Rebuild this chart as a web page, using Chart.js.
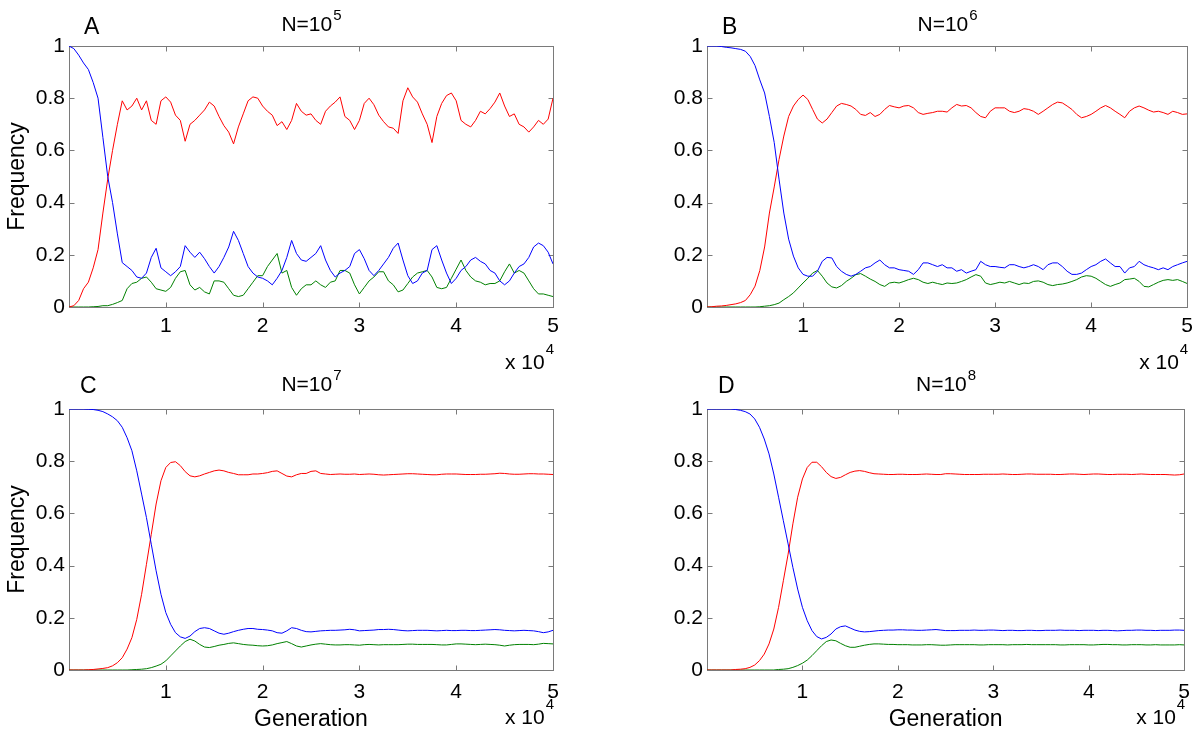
<!DOCTYPE html>
<html>
<head>
<meta charset="utf-8">
<script src="https://cdn.jsdelivr.net/npm/chart.js@4.4.0/dist/chart.umd.min.js"></script>
<style>
  body { margin: 0; background: #fff; width: 1200px; height: 736px; position: relative; overflow: hidden; }
  canvas { position: absolute; }
</style>
</head>
<body>
<canvas id="panelA" width="600" height="380" style="left:0;top:0"></canvas>
<canvas id="panelB" width="600" height="380" style="left:600px;top:0"></canvas>
<canvas id="panelC" width="600" height="368" style="left:0;top:368px"></canvas>
<canvas id="panelD" width="600" height="368" style="left:600px;top:368px"></canvas>
<script>
// generation sampled every 500
const generation = [0,500,1000,1500,2000,2500,3000,3500,4000,4500,5000,5500,6000,6500,7000,7500,8000,8500,9000,9500,
  10000,10500,11000,11500,12000,12500,13000,13500,14000,14500,15000,15500,16000,16500,17000,17500,18000,18500,19000,19500,
  20000,20500,21000,21500,22000,22500,23000,23500,24000,24500,25000,25500,26000,26500,27000,27500,28000,28500,29000,29500,
  30000,30500,31000,31500,32000,32500,33000,33500,34000,34500,35000,35500,36000,36500,37000,37500,38000,38500,39000,39500,
  40000,40500,41000,41500,42000,42500,43000,43500,44000,44500,45000,45500,46000,46500,47000,47500,48000,48500,49000,49500,50000];

const xTickLabels = ['', '1', '2', '3', '4', '5'];
const yTickLabels = ['0', '0.2', '0.4', '0.6', '0.8', '1'];

// N = 10^5
const aBlue = [1.0,0.99,0.965,0.935,0.91,0.86,0.80,0.65,0.50,0.40,
  0.28,0.17,0.155,0.14,0.115,0.11,0.13,0.19,0.225,0.15,
  0.135,0.12,0.135,0.155,0.235,0.21,0.19,0.21,0.185,0.155,
  0.13,0.155,0.19,0.23,0.29,0.255,0.205,0.155,0.13,0.115,
  0.11,0.10,0.085,0.11,0.14,0.19,0.255,0.205,0.18,0.175,
  0.19,0.205,0.235,0.18,0.14,0.115,0.13,0.14,0.155,0.205,
  0.22,0.185,0.14,0.12,0.14,0.165,0.19,0.225,0.245,0.18,
  0.12,0.09,0.10,0.13,0.14,0.22,0.235,0.18,0.13,0.09,
  0.11,0.14,0.155,0.18,0.19,0.175,0.165,0.14,0.13,0.10,
  0.085,0.10,0.13,0.155,0.165,0.19,0.23,0.245,0.235,0.21,0.165];
const aRed = [0,0.005,0.025,0.07,0.095,0.15,0.22,0.36,0.49,0.60,
  0.70,0.79,0.755,0.77,0.80,0.755,0.79,0.715,0.70,0.79,
  0.805,0.785,0.735,0.715,0.635,0.70,0.715,0.735,0.755,0.785,
  0.77,0.73,0.695,0.67,0.625,0.69,0.74,0.79,0.805,0.80,
  0.77,0.75,0.735,0.695,0.71,0.68,0.715,0.78,0.75,0.735,
  0.74,0.715,0.70,0.75,0.77,0.785,0.805,0.73,0.715,0.68,
  0.715,0.78,0.80,0.775,0.735,0.71,0.69,0.685,0.665,0.79,
  0.84,0.805,0.785,0.74,0.70,0.63,0.73,0.78,0.81,0.82,
  0.79,0.715,0.70,0.69,0.715,0.75,0.74,0.76,0.785,0.82,
  0.77,0.73,0.74,0.70,0.69,0.67,0.69,0.715,0.70,0.72,0.80];
const aGreen = [0,0,0,0,0,0.001,0.002,0.005,0.005,0.01,
  0.017,0.025,0.07,0.09,0.095,0.11,0.115,0.095,0.07,0.065,
  0.06,0.075,0.11,0.135,0.14,0.085,0.065,0.075,0.058,0.05,
  0.10,0.10,0.095,0.07,0.045,0.04,0.045,0.07,0.095,0.12,
  0.12,0.155,0.18,0.205,0.13,0.14,0.075,0.045,0.07,0.085,
  0.085,0.10,0.085,0.075,0.095,0.10,0.14,0.14,0.13,0.085,
  0.05,0.075,0.10,0.115,0.135,0.135,0.10,0.085,0.058,0.065,
  0.09,0.115,0.13,0.135,0.14,0.115,0.075,0.07,0.075,0.11,
  0.145,0.18,0.14,0.115,0.10,0.095,0.085,0.09,0.09,0.10,
  0.135,0.165,0.13,0.14,0.13,0.10,0.07,0.05,0.05,0.045,0.04];

// N = 10^6
const bBlue = [1.0,1.0,1.0,0.998,0.995,0.993,0.99,0.987,0.98,0.96,
  0.925,0.87,0.82,0.73,0.63,0.49,0.36,0.26,0.195,0.15,
  0.125,0.118,0.118,0.137,0.175,0.19,0.188,0.155,0.137,0.125,
  0.118,0.125,0.137,0.15,0.155,0.169,0.18,0.162,0.15,0.15,
  0.143,0.14,0.137,0.125,0.143,0.169,0.169,0.162,0.155,0.162,
  0.15,0.15,0.137,0.143,0.13,0.137,0.143,0.175,0.162,0.155,
  0.155,0.152,0.15,0.162,0.162,0.155,0.15,0.155,0.162,0.155,
  0.143,0.162,0.169,0.169,0.155,0.137,0.125,0.125,0.13,0.143,
  0.155,0.162,0.175,0.184,0.169,0.155,0.155,0.13,0.15,0.155,
  0.175,0.162,0.155,0.15,0.143,0.15,0.143,0.155,0.162,0.169,0.175];
const bRed = [0,0.001,0.003,0.004,0.006,0.009,0.012,0.017,0.025,0.047,
  0.08,0.14,0.23,0.36,0.46,0.565,0.655,0.73,0.77,0.795,
  0.812,0.795,0.757,0.72,0.705,0.72,0.745,0.77,0.78,0.776,
  0.77,0.757,0.738,0.734,0.745,0.73,0.738,0.757,0.772,0.767,
  0.763,0.77,0.772,0.763,0.745,0.738,0.742,0.745,0.75,0.75,
  0.747,0.763,0.776,0.77,0.772,0.763,0.745,0.73,0.725,0.75,
  0.763,0.763,0.763,0.75,0.745,0.75,0.76,0.757,0.75,0.738,
  0.75,0.763,0.776,0.785,0.782,0.77,0.757,0.738,0.725,0.73,
  0.738,0.75,0.763,0.772,0.763,0.75,0.738,0.725,0.75,0.763,
  0.77,0.763,0.754,0.747,0.75,0.745,0.738,0.75,0.745,0.738,0.74];
const bGreen = [0,0,0,0,0,0,0,0,0,0,
  0,0.001,0.003,0.005,0.009,0.015,0.028,0.04,0.054,0.073,
  0.092,0.11,0.13,0.14,0.118,0.092,0.077,0.073,0.082,0.098,
  0.11,0.124,0.128,0.118,0.107,0.098,0.086,0.079,0.092,0.095,
  0.092,0.098,0.105,0.11,0.105,0.095,0.09,0.095,0.09,0.086,
  0.092,0.09,0.092,0.098,0.105,0.115,0.124,0.118,0.092,0.086,
  0.09,0.095,0.092,0.098,0.092,0.086,0.092,0.09,0.098,0.10,
  0.095,0.086,0.082,0.086,0.088,0.092,0.098,0.105,0.115,0.12,
  0.118,0.11,0.098,0.086,0.079,0.086,0.092,0.105,0.107,0.11,
  0.098,0.079,0.077,0.086,0.095,0.102,0.105,0.102,0.105,0.098,0.09];

// N = 10^7
const cBlue = [1,1,1,1,0.999,0.998,0.995,0.99,0.981,0.97,
  0.955,0.93,0.89,0.84,0.763,0.674,0.584,0.482,0.38,0.29,
  0.22,0.175,0.143,0.127,0.121,0.13,0.147,0.159,0.162,0.159,
  0.15,0.141,0.137,0.141,0.147,0.152,0.156,0.159,0.159,0.156,
  0.155,0.153,0.15,0.143,0.141,0.15,0.162,0.159,0.152,0.147,
  0.146,0.148,0.15,0.151,0.152,0.152,0.153,0.154,0.156,0.154,
  0.15,0.151,0.152,0.153,0.155,0.155,0.156,0.155,0.153,0.151,
  0.15,0.151,0.152,0.152,0.152,0.151,0.15,0.151,0.152,0.151,
  0.151,0.152,0.152,0.151,0.151,0.152,0.153,0.154,0.155,0.154,
  0.152,0.151,0.15,0.151,0.152,0.151,0.15,0.147,0.143,0.146,0.152];
const cRed = [0,0,0,0,0.001,0.002,0.004,0.006,0.009,0.016,
  0.028,0.047,0.08,0.124,0.194,0.29,0.405,0.52,0.636,0.725,
  0.776,0.795,0.798,0.783,0.76,0.744,0.74,0.744,0.751,0.757,
  0.763,0.766,0.763,0.757,0.753,0.748,0.748,0.748,0.751,0.751,
  0.753,0.756,0.761,0.763,0.753,0.743,0.74,0.748,0.753,0.753,
  0.761,0.763,0.753,0.751,0.749,0.75,0.751,0.75,0.75,0.751,
  0.749,0.75,0.751,0.75,0.748,0.747,0.748,0.749,0.75,0.751,
  0.752,0.752,0.751,0.75,0.749,0.748,0.748,0.75,0.751,0.751,
  0.751,0.75,0.749,0.749,0.749,0.75,0.75,0.751,0.752,0.754,
  0.753,0.751,0.75,0.75,0.751,0.752,0.752,0.751,0.751,0.75,0.749];
const cGreen = [0,0,0,0,0,0,0,0,0,0,
  0,0,0,0.001,0.002,0.003,0.005,0.009,0.015,0.022,
  0.035,0.054,0.073,0.092,0.109,0.118,0.111,0.098,0.088,0.086,
  0.09,0.095,0.098,0.102,0.104,0.101,0.098,0.096,0.095,0.093,
  0.092,0.093,0.096,0.101,0.105,0.109,0.101,0.092,0.088,0.092,
  0.096,0.099,0.101,0.099,0.097,0.096,0.096,0.097,0.097,0.096,
  0.095,0.097,0.098,0.097,0.096,0.097,0.097,0.097,0.097,0.098,
  0.099,0.099,0.098,0.098,0.098,0.098,0.097,0.096,0.096,0.098,
  0.1,0.1,0.099,0.098,0.097,0.098,0.099,0.098,0.097,0.095,
  0.092,0.095,0.097,0.098,0.098,0.098,0.097,0.099,0.102,0.101,0.1];

// N = 10^8
const dBlue = [1,1,1,1,1,1,0.998,0.995,0.99,0.981,
  0.962,0.93,0.885,0.828,0.751,0.662,0.572,0.483,0.393,0.31,
  0.24,0.189,0.151,0.128,0.119,0.125,0.138,0.157,0.166,0.169,
  0.161,0.153,0.148,0.146,0.147,0.149,0.151,0.152,0.153,0.153,
  0.154,0.154,0.153,0.153,0.152,0.152,0.153,0.154,0.155,0.153,
  0.151,0.151,0.151,0.152,0.152,0.152,0.153,0.152,0.152,0.153,
  0.153,0.152,0.151,0.152,0.152,0.151,0.151,0.152,0.152,0.151,
  0.151,0.152,0.152,0.152,0.153,0.152,0.152,0.152,0.151,0.152,
  0.152,0.152,0.151,0.152,0.152,0.151,0.15,0.151,0.152,0.152,
  0.153,0.153,0.152,0.152,0.151,0.152,0.152,0.152,0.153,0.153,0.152];
const dRed = [0,0,0,0,0,0,0.002,0.003,0.005,0.01,
  0.019,0.036,0.061,0.1,0.157,0.24,0.342,0.444,0.56,0.662,
  0.732,0.776,0.796,0.796,0.779,0.757,0.741,0.734,0.738,0.748,
  0.757,0.762,0.764,0.761,0.756,0.752,0.751,0.75,0.749,0.749,
  0.75,0.75,0.749,0.749,0.749,0.75,0.751,0.75,0.749,0.749,
  0.752,0.752,0.751,0.75,0.749,0.749,0.749,0.749,0.75,0.75,
  0.75,0.75,0.751,0.75,0.749,0.749,0.75,0.751,0.751,0.75,
  0.75,0.75,0.75,0.749,0.749,0.75,0.751,0.751,0.75,0.749,
  0.75,0.751,0.751,0.75,0.749,0.749,0.75,0.75,0.75,0.749,
  0.75,0.751,0.75,0.749,0.749,0.749,0.749,0.748,0.747,0.748,0.751];
const dGreen = [0,0,0,0,0,0,0,0,0,0,
  0,0,0,0,0,0.002,0.003,0.005,0.01,0.017,
  0.026,0.038,0.055,0.074,0.093,0.109,0.115,0.112,0.102,0.093,
  0.087,0.087,0.091,0.095,0.098,0.1,0.1,0.099,0.098,0.098,
  0.097,0.097,0.097,0.096,0.096,0.096,0.097,0.097,0.096,0.095,
  0.095,0.096,0.097,0.097,0.097,0.097,0.097,0.096,0.096,0.097,
  0.097,0.097,0.097,0.096,0.097,0.097,0.097,0.098,0.097,0.097,
  0.097,0.097,0.097,0.097,0.096,0.096,0.097,0.097,0.097,0.097,
  0.096,0.096,0.097,0.098,0.098,0.097,0.097,0.096,0.096,0.097,
  0.097,0.097,0.096,0.096,0.097,0.096,0.096,0.096,0.096,0.097,0.096];

const FONT = '"Liberation Sans", Arial, sans-serif';

const panels = [
  { id: 'panelA', letter: 'A', power: '5', blue: aBlue, red: aRed, green: aGreen,
    box: { left: 69, right: 553, top: 46, bottom: 307 }, yTitle: true, xTitle: false, row: 0 },
  { id: 'panelB', letter: 'B', power: '6', blue: bBlue, red: bRed, green: bGreen,
    box: { left: 107, right: 590, top: 46, bottom: 307 }, yTitle: false, xTitle: false, row: 0 },
  { id: 'panelC', letter: 'C', power: '7', blue: cBlue, red: cRed, green: cGreen,
    box: { left: 69, right: 553, top: 41, bottom: 302 }, yTitle: true, xTitle: true, row: 1 },
  { id: 'panelD', letter: 'D', power: '8', blue: dBlue, red: dRed, green: dGreen,
    box: { left: 107, right: 590, top: 41, bottom: 302 }, yTitle: false, xTitle: true, row: 1 }
];

// text with a raised exponent, e.g. N=10^5
function drawPower(ctx, base, sup, x, y, size, supSize, rise, align) {
  ctx.font = size + 'px ' + FONT;
  const w1 = ctx.measureText(base).width;
  ctx.font = supSize + 'px ' + FONT;
  const w2 = ctx.measureText(sup).width;
  let left = x;
  if (align === 'center') left = x - (w1 + w2) / 2;
  if (align === 'right') left = x - w1 - w2;
  ctx.textAlign = 'left';
  ctx.textBaseline = 'alphabetic';
  ctx.font = size + 'px ' + FONT;
  ctx.fillText(base, left, y);
  ctx.font = supSize + 'px ' + FONT;
  ctx.fillText(sup, left + w1 + 1, y - rise);
}

const matlabBox = {
  id: 'matlabBox',
  beforeDatasetsDraw(chart) {
    const { ctx, chartArea: a, scales: { x, y } } = chart;
    const L = Math.round(a.left) + 0.5, R = Math.round(a.right) + 0.5;
    const T = Math.round(a.top) + 0.5, B = Math.round(a.bottom) + 0.5;
    ctx.save();
    ctx.strokeStyle = '#7a7a7a';
    ctx.lineWidth = 1;
    ctx.strokeRect(L, T, R - L, B - T);
    ctx.beginPath();
    x.ticks.forEach(t => {
      const px = Math.round(x.getPixelForValue(t.value)) + 0.5;
      ctx.moveTo(px, T); ctx.lineTo(px, T + 5);
      ctx.moveTo(px, B); ctx.lineTo(px, B - 5);
    });
    y.ticks.forEach(t => {
      const py = Math.round(y.getPixelForValue(t.value)) + 0.5;
      ctx.moveTo(L, py); ctx.lineTo(L + 5, py);
      ctx.moveTo(R, py); ctx.lineTo(R - 5, py);
    });
    ctx.stroke();
    ctx.restore();
  },
  afterDraw(chart, args, opts) {
    const { ctx, chartArea: a } = chart;
    const p = opts.panel;
    const mid = (a.left + a.right) / 2;
    ctx.save();
    ctx.fillStyle = '#000';
    ctx.font = '23px ' + FONT;
    ctx.textAlign = 'left';
    ctx.textBaseline = 'alphabetic';
    ctx.fillText(p.letter, a.left + (p.row ? 11 : 15), a.top - (p.row ? 16 : 12));
    drawPower(ctx, 'N=10', p.power, mid, a.top - (p.row ? 18 : 15), 21, 15, 11, 'center');
    drawPower(ctx, 'x 10', '4', a.right, a.bottom + (p.row ? 54 : 62), 21, 15, 15, 'right');
    ctx.restore();
  }
};

panels.forEach(p => {
  const canvas = document.getElementById(p.id);
  const W = canvas.width, H = canvas.height;
  const xHeight = p.row ? 63 : 60;
  const series = [
    { label: 'blue', values: p.blue, color: '#0000ff' },
    { label: 'red', values: p.red, color: '#ff0000' },
    { label: 'green', values: p.green, color: '#008000' }
  ];
  new Chart(canvas, {
    type: 'line',
    data: {
      datasets: series.map(s => ({
        label: s.label,
        data: generation.map((g, i) => ({ x: g, y: s.values[i] })),
        borderColor: s.color,
        borderWidth: 1,
        pointRadius: 0,
        tension: 0,
        fill: false
      }))
    },
    options: {
      responsive: false,
      animation: false,
      devicePixelRatio: 1,
      layout: { padding: { left: 0, right: W - p.box.right, top: p.box.top, bottom: H - p.box.bottom - xHeight } },
      plugins: {
        legend: { display: false },
        tooltip: { enabled: false },
        matlabBox: { panel: p }
      },
      scales: {
        x: {
          type: 'linear', min: 0, max: 50000,
          grid: { display: false, drawTicks: false },
          border: { display: false },
          ticks: {
            stepSize: 10000, padding: p.row ? 10 : 7, color: '#000', maxRotation: 0, autoSkip: false,
            font: { family: FONT, size: 21 },
            callback: v => xTickLabels[Math.round(v / 10000)]
          },
          title: { display: p.xTitle, text: 'Generation', color: '#000',
                   font: { family: FONT, size: 23 }, padding: { top: 0, bottom: 0 } },
          afterFit: s => { s.height = xHeight; }
        },
        y: {
          min: 0, max: 1,
          grid: { display: false, drawTicks: false },
          border: { display: false },
          ticks: { stepSize: 0.2, padding: 4, color: '#000', font: { family: FONT, size: 21 },
                   callback: v => yTickLabels[Math.round(v * 5)] },
          title: { display: p.yTitle, text: 'Frequency', color: '#000',
                   font: { family: FONT, size: 23 }, padding: { top: 4, bottom: 0 } },
          afterFit: s => { s.width = p.box.left; }
        }
      }
    },
    plugins: [matlabBox]
  });
});
</script>
</body>
</html>
